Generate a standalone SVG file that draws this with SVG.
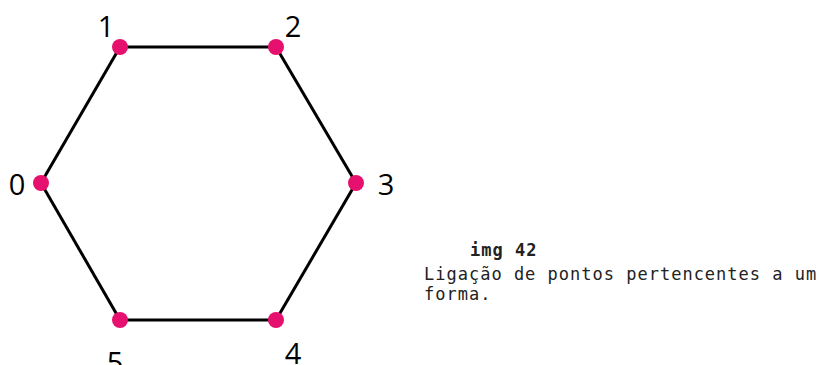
<svg xmlns="http://www.w3.org/2000/svg" width="819" height="365" viewBox="0 0 819 365">
<style>
.edge{stroke:#000;stroke-width:3;fill:none}
.node{fill:#e6106e}
.lbl{font-family:"Open Sans","Noto Sans",sans-serif;font-size:29px;fill:#000}
.cap{font-family:"DejaVu Sans Mono","Liberation Mono",monospace;font-size:17px;letter-spacing:1px;fill:#222}
</style>
<rect width="819" height="365" fill="#fff"/>
<g id="connectors">
<line class="edge" x1="41" y1="183" x2="120" y2="47"/>
<line class="edge" x1="120" y1="47" x2="276" y2="47"/>
<line class="edge" x1="276" y1="47" x2="356" y2="183"/>
<line class="edge" x1="356" y1="183" x2="276" y2="320"/>
<line class="edge" x1="276" y1="320" x2="120" y2="320"/>
<line class="edge" x1="120" y1="320" x2="41" y2="183"/>
</g>
<g id="n0"><circle class="node" cx="41" cy="183" r="8"/><text class="lbl" x="17" y="195" text-anchor="middle">0</text></g>
<g id="n1"><circle class="node" cx="120" cy="47" r="8"/><text class="lbl" x="106" y="37" text-anchor="middle">1</text></g>
<g id="n2"><circle class="node" cx="276" cy="47" r="8"/><text class="lbl" x="293" y="37" text-anchor="middle">2</text></g>
<g id="n3"><circle class="node" cx="356" cy="183" r="8"/><text class="lbl" x="386" y="195" text-anchor="middle">3</text></g>
<g id="n4"><circle class="node" cx="276" cy="320" r="8"/><text class="lbl" x="293" y="364" text-anchor="middle">4</text></g>
<g id="n5"><circle class="node" cx="120" cy="320" r="8"/><text class="lbl" x="115" y="373" text-anchor="middle">5</text></g>
<g id="caption">
<text class="cap" x="470" y="256" font-weight="bold">img 42</text>
<text class="cap" x="424" y="280">Ligação de pontos pertencentes a um</text>
<text class="cap" x="424" y="300">forma.</text>
</g>
</svg>
